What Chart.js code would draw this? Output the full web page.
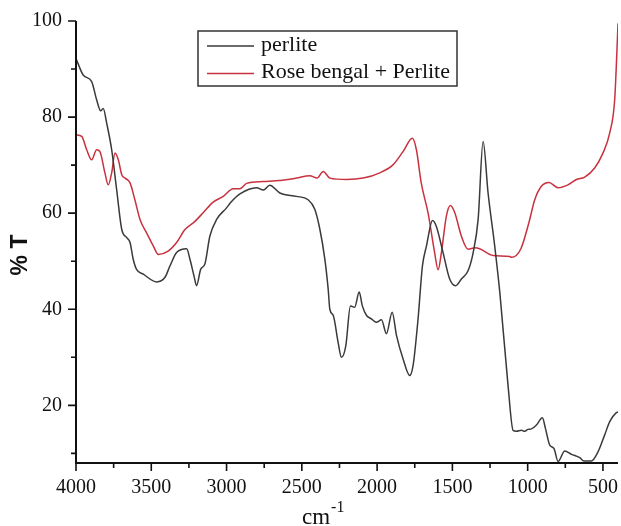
<!DOCTYPE html>
<html>
<head>
<meta charset="utf-8">
<script src="https://cdn.jsdelivr.net/npm/chart.js@4/dist/chart.umd.min.js"></script>
<style>
html,body{margin:0;padding:0;background:#fff;}
#wrap{width:621px;height:526px;position:relative;}
</style>
</head>
<body>
<div id="wrap"><canvas id="c" width="621" height="526"></canvas></div>
<script>
// ---- data (wavenumber cm^-1, %T) ----
const perliteWavenumber = [4000,3951,3896,3863,3836,3819,3796,3763,3730,3696,3663,3641,3620,3598,3553,3464,3410,3376,3332,3265,3243,3216,3199,3172,3144,3111,3066,3000,2973,2911,2800,2756,2713,2646,2536,2458,2414,2380,2347,2325,2314,2291,2259,2237,2208,2177,2149,2119,2098,2070,2038,2005,1971,1938,1900,1871,1828,1783,1761,1728,1699,1672,1632,1607,1562,1518,1478,1440,1396,1362,1329,1296,1263,1219,1185,1130,1097,1075,1041,1020,998,975,942,902,882,853,825,798,754,709,654,626,577,533,489,455,411,400];
const perliteT = [92.2,88.7,87.4,83.6,81.3,81.8,78.7,73.2,64.9,56.6,54.9,53.9,50.4,48.3,47.3,45.7,46.6,49.0,51.8,52.6,50.4,46.9,44.9,48.3,49.4,55.2,58.7,61.1,62.2,64.0,65.3,64.8,65.8,64.2,63.5,62.8,60.8,56.6,50.4,44.2,40.0,38.7,33.1,30.0,32.4,40.7,40.4,43.6,40.7,38.7,38.0,37.3,37.8,34.9,39.4,34.5,29.7,26.2,28.3,38.0,49.0,53.2,58.5,57.3,51.8,46.3,44.9,46.3,48.0,51.8,58.7,74.9,64.2,53.2,43.5,24.0,14.8,14.6,14.8,14.6,15.0,15.1,15.9,17.4,15.2,11.7,11.0,8.3,10.5,9.8,9.1,8.4,8.4,10.3,13.8,16.6,18.5,18.6];

const rbWavenumber = [4000,3962,3929,3896,3863,3841,3808,3786,3763,3741,3719,3696,3674,3641,3609,3575,3531,3487,3453,3388,3332,3276,3210,3155,3089,3022,2956,2911,2867,2756,2646,2536,2447,2398,2358,2314,2203,2092,1982,1893,1828,1766,1739,1707,1662,1618,1595,1573,1540,1513,1484,1440,1396,1350,1319,1230,1119,1108,1045,992,953,909,858,798,732,676,621,555,500,455,422,407,400];
const rbT = [76.3,76.0,73.2,71.1,73.2,72.8,68.4,65.9,68.4,72.5,71.1,68.0,67.3,66.3,62.8,58.7,55.9,53.2,51.4,52.1,53.9,56.6,58.3,60.1,62.3,63.5,65.1,65.1,66.2,66.6,66.8,67.3,67.8,67.3,68.7,67.3,67.0,67.3,68.4,70.1,72.8,75.6,73.2,66.3,60.1,51.8,48.2,51.8,59.4,61.6,60.1,55.2,52.5,52.8,52.6,51.2,51.0,50.8,52.6,58.0,62.8,65.6,66.4,65.3,65.9,67.0,67.5,69.4,72.5,76.7,83.6,93.9,99.5];

const seriesLabels = ['perlite', 'Rose bengal + Perlite'];
const xMajorTicks = [4000,3500,3000,2500,2000,1500,1000,500];
const xMinorTicks = [3750,3250,2750,2250,1750,1250,750];
const yMajorTicks = [20,40,60,80,100];
const yMinorTicks = [10,30,50,70,90];

const SERIF = '"Liberation Serif","Times New Roman",serif';
const SANS = '"Liberation Sans",Arial,sans-serif';

const toPts = (xs, ys) => xs.map((x, i) => ({x: x, y: ys[i]}));

const axesPlugin = {
  id: 'axesPlugin',
  afterDraw(chart) {
    const ctx = chart.ctx;
    const a = chart.chartArea;
    const xs = chart.scales.x, ys = chart.scales.y;
    ctx.save();
    ctx.strokeStyle = '#111';
    ctx.lineWidth = 2;
    ctx.beginPath();
    ctx.moveTo(a.left, a.top);
    ctx.lineTo(a.left, a.bottom);
    ctx.lineTo(a.right, a.bottom);
    ctx.stroke();
    ctx.lineWidth = 1.6;
    ctx.beginPath();
    yMajorTicks.forEach(v => { const p = ys.getPixelForValue(v); ctx.moveTo(a.left, p); ctx.lineTo(a.left - 8, p); });
    yMinorTicks.forEach(v => { const p = ys.getPixelForValue(v); ctx.moveTo(a.left, p); ctx.lineTo(a.left - 5, p); });
    xMajorTicks.forEach(v => { const p = xs.getPixelForValue(v); ctx.moveTo(p, a.bottom); ctx.lineTo(p, a.bottom + 8); });
    xMinorTicks.forEach(v => { const p = xs.getPixelForValue(v); ctx.moveTo(p, a.bottom); ctx.lineTo(p, a.bottom + 5); });
    ctx.stroke();

    // axis titles
    ctx.fillStyle = '#111';
    ctx.font = '23px ' + SERIF;
    ctx.textBaseline = 'alphabetic';
    ctx.textAlign = 'left';
    const cx = (a.left + a.right) / 2 - 45;
    ctx.fillText('cm', cx, a.bottom + 61);
    const w = ctx.measureText('cm').width;
    ctx.font = '16px ' + SERIF;
    ctx.fillText('-1', cx + w + 1, a.bottom + 49);

    ctx.save();
    ctx.translate(21, (a.top + a.bottom) / 2 + 13);
    ctx.rotate(-Math.PI / 2);
    ctx.font = 'bold 23px ' + SANS;
    ctx.textAlign = 'center';
    ctx.textBaseline = 'middle';
    ctx.fillText('% T', 0, 0);
    ctx.restore();

    // legend
    const lx = a.left + 122, ly = a.top + 10, lw = 259, lh = 55;
    ctx.fillStyle = '#fff';
    ctx.fillRect(lx, ly, lw, lh);
    ctx.strokeStyle = '#333';
    ctx.lineWidth = 1.5;
    ctx.strokeRect(lx, ly, lw, lh);
    ctx.font = '22px ' + SERIF;
    ctx.textAlign = 'left';
    ctx.textBaseline = 'middle';
    chart.data.datasets.forEach((ds, i) => {
      const yy = ly + 15 + i * 27.5;
      ctx.strokeStyle = ds.borderColor;
      ctx.lineWidth = 1.5;
      ctx.beginPath();
      ctx.moveTo(lx + 9, yy);
      ctx.lineTo(lx + 56, yy);
      ctx.stroke();
      ctx.fillStyle = '#111';
      ctx.fillText(ds.label, lx + 63, yy - 1);
    });
    ctx.restore();
  }
};

new Chart(document.getElementById('c'), {
  type: 'line',
  data: {
    datasets: [
      { label: seriesLabels[0], data: toPts(perliteWavenumber, perliteT), borderColor: '#3a3a3a', borderWidth: 1.5, pointRadius: 0, cubicInterpolationMode: 'monotone', fill: false },
      { label: seriesLabels[1], data: toPts(rbWavenumber, rbT), borderColor: '#c8323e', borderWidth: 1.5, pointRadius: 0, cubicInterpolationMode: 'monotone', fill: false }
    ]
  },
  options: {
    responsive: false,
    animation: false,
    devicePixelRatio: 1,
    layout: { padding: { left: 0, top: 21, right: 3, bottom: 0 } },
    plugins: { legend: { display: false }, tooltip: { enabled: false } },
    scales: {
      x: {
        type: 'linear', reverse: true, min: 400, max: 4000,
        grid: { display: false, drawTicks: false },
        border: { display: false },
        afterBuildTicks: s => { s.ticks = xMajorTicks.map(v => ({ value: v })); },
        afterFit: s => { s.height = 63; s.paddingLeft = 0; s.paddingRight = 0; },
        ticks: { color: '#111', font: { family: SERIF, size: 20 }, padding: 13, maxRotation: 0, autoSkip: false, callback: v => String(v) }
      },
      y: {
        type: 'linear', min: 8, max: 100,
        grid: { display: false, drawTicks: false },
        border: { display: false },
        afterBuildTicks: s => { s.ticks = yMajorTicks.map(v => ({ value: v })); },
        afterFit: s => { s.width = 76; s.paddingTop = 0; s.paddingBottom = 0; },
        ticks: { color: '#111', font: { family: SERIF, size: 20 }, padding: 14, autoSkip: false, callback: v => String(v) }
      }
    }
  },
  plugins: [axesPlugin]
});
</script>
</body>
</html>
